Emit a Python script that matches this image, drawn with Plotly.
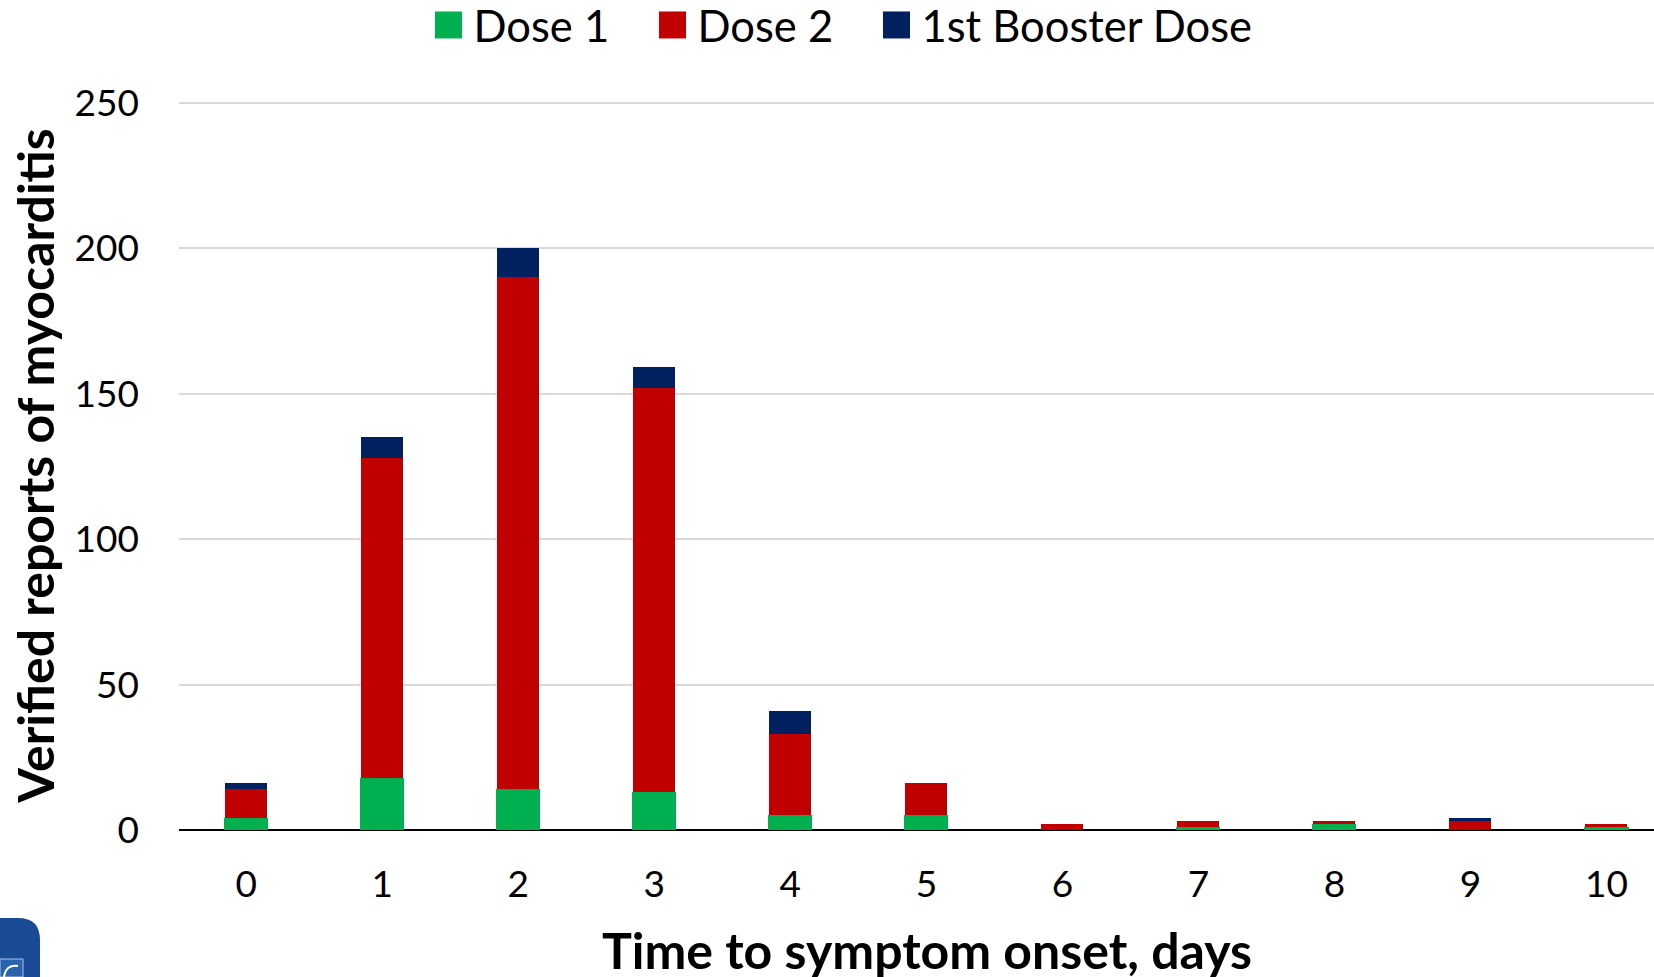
import plotly.graph_objects as go

days = list(range(11))
dose1 = [4, 18, 14, 13, 5, 5, 0, 1, 2, 0, 1]
dose2 = [10, 110, 176, 139, 28, 11, 2, 2, 1, 3, 1]
booster = [2, 7, 10, 7, 8, 0, 0, 0, 0, 1, 0]
y_ticks = [0, 50, 100, 150, 200, 250]

GREEN, RED, NAVY = "#00B050", "#C00000", "#002060"
FONT = "Lato, Carlito, sans-serif"

fig = go.Figure()
fig.add_bar(x=days, y=dose1, name="Dose 1", marker_color=GREEN, marker_line_width=0, width=0.325)
fig.add_bar(x=days, y=dose2, name="Dose 2", marker_color=RED, marker_line_width=0, width=0.31)
fig.add_bar(x=days, y=booster, name="1st Booster Dose", marker_color=NAVY, marker_line_width=0, width=0.31)


def px(x):
    return (x - 179) / 1475


def py(y):
    return (830 - y) / 729


fig.update_layout(
    barmode="stack",
    width=1654, height=977,
    margin=dict(l=179, r=0, t=101, b=147, autoexpand=False),
    paper_bgcolor="white", plot_bgcolor="white",
    font=dict(family=FONT, size=37, color="black"),
    legend=dict(
        orientation="h", x=px(423.5), y=1.104, xanchor="left", yanchor="middle",
        font=dict(size=43.5), traceorder="normal", itemwidth=40,
        entrywidth=169, entrywidthmode="pixels", bgcolor="rgba(0,0,0,0)",
    ),
    xaxis=dict(
        range=[-0.495, 10.35], tickmode="array", tickvals=days, ticktext=[str(d) for d in days],
        showgrid=False, zeroline=False, showline=False, ticks="", automargin=False,
        tickfont=dict(size=37), ticklabelstandoff=29,
        title=dict(text="<b>Time to symptom onset, days</b>", font=dict(size=50)),
    ),
    yaxis=dict(
        range=[0, 250.6], tickmode="array", tickvals=y_ticks,
        showgrid=True, gridcolor="#D9D9D9", gridwidth=2, zeroline=True, zerolinecolor="black", zerolinewidth=2,
        ticks="", automargin=False, tickfont=dict(size=37), ticklabelstandoff=39,
        title=dict(text="<b>Verified reports of myocarditis</b>", font=dict(size=50)),
    ),
    shapes=[dict(
        type="path", xref="paper", yref="paper", layer="above",
        path=f"M {px(0)} {py(977)} L {px(0)} {py(918)} L {px(18)} {py(918)} "
             f"Q {px(40)} {py(918)} {px(40)} {py(940)} L {px(40)} {py(977)} Z",
        fillcolor="#1B4A94", line_width=0,
    ), dict(
        type="rect", xref="paper", yref="paper", layer="above",
        x0=px(0), x1=px(23), y0=py(977), y1=py(959),
        fillcolor="#2A62AB", line=dict(color="#A9C4E4", width=1),
    ), dict(
        type="path", xref="paper", yref="paper", layer="above",
        path=f"M {px(4)} {py(977)} Q {px(6)} {py(964)} {px(18)} {py(966)}",
        line=dict(color="white", width=2),
    )],
)

post = """
document.body.style.margin='0';
var gd = document.querySelector('.plotly-graph-div');
gd.querySelectorAll('.legendbar, .legend .legendundefined').forEach(function(p){
  p.setAttribute('d','M13.5,13.5H-13.5V-13.5H13.5Z');
});
var sb = gd.querySelector('.legend .scrollbox');
if (sb) sb.removeAttribute('clip-path');
gd.querySelectorAll('.legend .legendtoggle').forEach(function(t){ t.style.pointerEvents='none'; });
function shift(sel, dx, dy){
  var t = gd.querySelector(sel);
  if (t) t.setAttribute('transform', 'translate('+dx+','+dy+') ' + (t.getAttribute('transform')||''));
}
shift('.xtitle', 10.5, 14);
shift('.ytitle', 5, 0);
"""
fig.write_html("out.html", post_script=post, config={"displayModeBar": False})
